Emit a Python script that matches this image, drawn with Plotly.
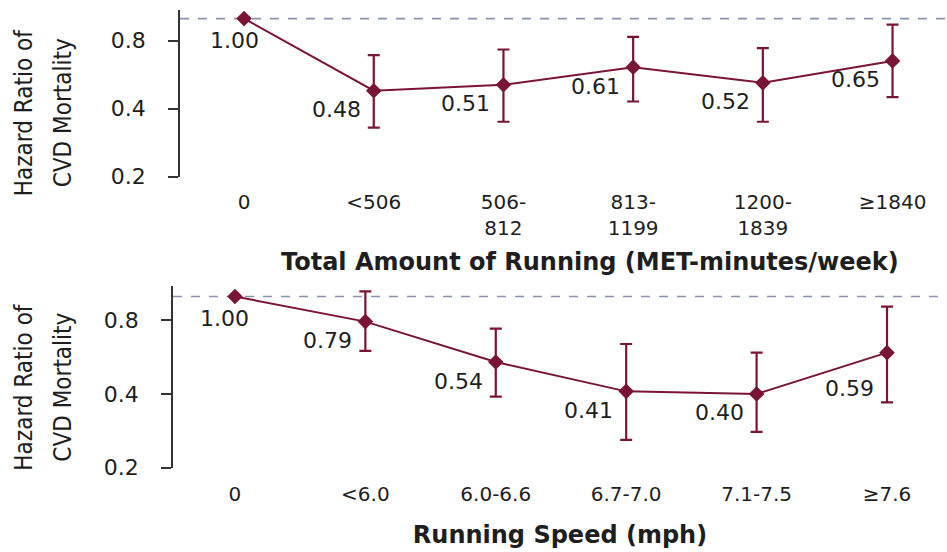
import math
import plotly.graph_objects as go

# ---- Data ----
amount_cats = ["0", "<506", "506-<br>812", "813-<br>1199", "1200-<br>1839", "≥1840"]
amount_hr = [1.00, 0.48, 0.51, 0.61, 0.52, 0.65]
amount_hi = [1.00, 0.69, 0.73, 0.83, 0.74, 0.94]
amount_lo = [1.00, 0.33, 0.35, 0.43, 0.35, 0.45]
amount_lbl = ["1.00", "0.48", "0.51", "0.61", "0.52", "0.65"]

speed_cats = ["0", "<6.0", "6.0-6.6", "6.7-7.0", "7.1-7.5", "≥7.6"]
speed_hr = [1.00, 0.79, 0.54, 0.41, 0.40, 0.59]
speed_hi = [1.00, 1.05, 0.74, 0.64, 0.59, 0.91]
speed_lo = [1.00, 0.60, 0.39, 0.26, 0.28, 0.37]
speed_lbl = ["1.00", "0.79", "0.54", "0.41", "0.40", "0.59"]

y_ticks = [0.2, 0.4, 0.8]
y_ticktext = ["0.2", "0.4", "0.8"]
ref_hr = 1.0

x_title_top = "Total Amount of Running (MET-minutes/week)"
x_title_bot = "Running Speed (mph)"
y_title_lines = ["Hazard Ratio of", "CVD Mortality"]

# ---- Style ----
MAROON = "#7a1436"
DASH = "#8a93ad"
AXIS = "#333333"
TXT = "#1e1e1e"
NUM_FONT = "DejaVu Sans"
COND_FONT = "DejaVu Sans Condensed, Liberation Sans Narrow, Roboto Condensed, Roboto"
TITLE_FONT = dict(family="DejaVu Sans", size=24, color=TXT, weight="bold")
W, H = 947, 552
LABEL_YSHIFT = -19
LABEL_YSHIFT_OVERRIDE = {("x2", 5): -36}   # label nudged below the rising line

fig = go.Figure()

def add_panel(cats, hr, hi, lo, xa, ya):
    fig.add_trace(go.Scatter(
        x=cats, y=hr, mode="lines+markers",
        xaxis=xa, yaxis=ya,
        line=dict(color=MAROON, width=2),
        marker=dict(symbol="diamond", size=12, color=MAROON),
        error_y=dict(type="data", symmetric=False,
                     array=[h - v for h, v in zip(hi, hr)],
                     arrayminus=[v - l for v, l in zip(hr, lo)],
                     color=MAROON, thickness=2.2, width=6),
        showlegend=False, cliponaxis=False,
    ))

add_panel(amount_cats, amount_hr, amount_hi, amount_lo, "x", "y")
add_panel(speed_cats, speed_hr, speed_hi, speed_lo, "x2", "y2")

def yaxis_cfg(domain, top, anchor):
    return dict(
        type="log", domain=domain, anchor=anchor,
        range=[math.log10(0.2), math.log10(top)],
        tickvals=y_ticks, ticktext=y_ticktext,
        showline=True, linecolor=AXIS, linewidth=1.6,
        ticks="outside", ticklen=10, tickwidth=1.6, tickcolor=AXIS,
        tickfont=dict(family=NUM_FONT, size=22, color=TXT),
        ticklabelstandoff=18,
        showgrid=False, zeroline=False,
    )

def xaxis_cfg(domain, rng, anchor, standoff):
    return dict(
        type="category", domain=domain, range=rng, anchor=anchor,
        showline=False, showgrid=False, zeroline=False, ticks="",
        tickfont=dict(family=NUM_FONT, size=20, color=TXT),
        ticklabelstandoff=standoff,
    )

xa2 = xaxis_cfg([173 / W, 1.0], [-0.475, 5.46], "y2", 12)
xa2["title"] = dict(text=x_title_bot, font=TITLE_FONT, standoff=21)
xa2["automargin"] = False

fig.update_layout(
    width=W, height=H,
    margin=dict(l=0, r=0, t=0, b=0),
    paper_bgcolor="white", plot_bgcolor="white",
    xaxis=xaxis_cfg([180 / W, 1.0], [-0.494, 5.42], "y", 11),
    yaxis=yaxis_cfg([1 - 181 / H, 1 - 10 / H], 1.094, "x"),
    xaxis2=xa2,
    yaxis2=yaxis_cfg([1 - 479 / H, 1 - 293 / H], 1.103, "x2"),
)

# reference dashed lines at HR = 1
for xr, yr in (("x domain", "y"), ("x2 domain", "y2")):
    fig.add_shape(type="line", xref=xr, yref=yr, x0=0, x1=1, y0=ref_hr, y1=ref_hr,
                  line=dict(color=DASH, width=1.6, dash="dash"), layer="below")

# value labels (annotation y on a log axis is given in log10 units)
def add_labels(cats, hr, lbls, xa, ya):
    for i, (c, v, t) in enumerate(zip(cats, hr, lbls)):
        first = i == 0
        ys = -22 if first else LABEL_YSHIFT_OVERRIDE.get((xa, i), LABEL_YSHIFT)
        fig.add_annotation(
            x=c, y=math.log10(v), xref=xa, yref=ya, text=t, showarrow=False,
            xanchor="center" if first else "right", yanchor="middle",
            xshift=-10 if first else -11, yshift=ys,
            font=dict(family=NUM_FONT, size=22, color=TXT),
        )

add_labels(amount_cats, amount_hr, amount_lbl, "x", "y")
add_labels(speed_cats, speed_hr, speed_lbl, "x2", "y2")

# top x-axis title
fig.add_annotation(x=590 / W, y=1 - 268 / H, xref="paper", yref="paper",
                   text=x_title_top, showarrow=False, xanchor="center", yanchor="middle",
                   font=TITLE_FONT)

for cy in (116, 397):
    for cx, line in zip((24, 63), y_title_lines):
        fig.add_annotation(x=cx / W, y=1 - cy / H, xref="paper", yref="paper",
                           text=line, showarrow=False, textangle=-90,
                           xanchor="center", yanchor="middle",
                           font=dict(family=COND_FONT, size=24, color=TXT))

fig.write_html("out.html")
